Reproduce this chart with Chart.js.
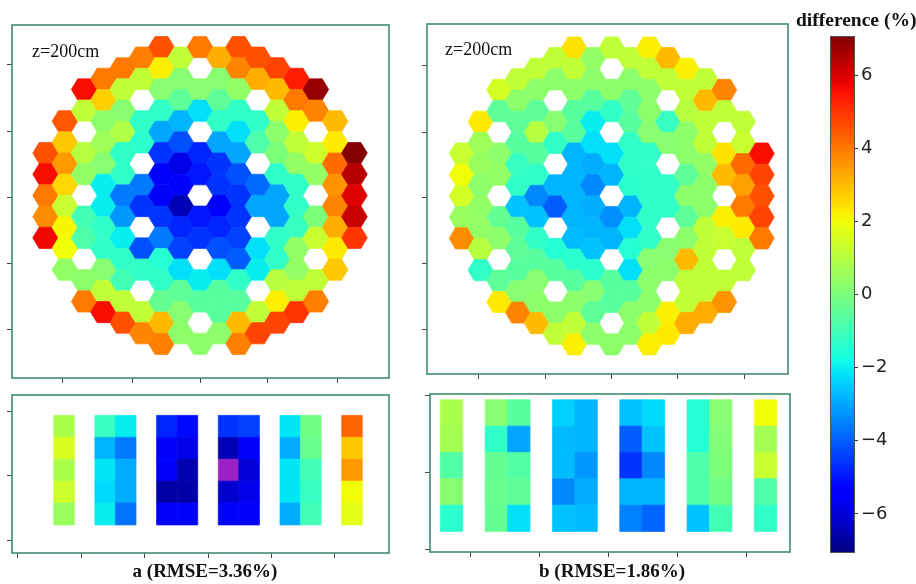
<!DOCTYPE html>
<html>
<head>
<meta charset="utf-8">
<script src="https://cdn.jsdelivr.net/npm/chart.js@4.4.1/dist/chart.umd.min.js"></script>
<style>
  html, body { margin: 0; padding: 0; background: #fff; }
  body { position: relative; width: 916px; height: 584px; overflow: hidden; }
  canvas { position: absolute; }
  .txt { position: absolute; white-space: nowrap; color: #111; line-height: 1; font-family: "Liberation Serif", "Times New Roman", serif; }
  .z { font-size: 18px; }
  .cap { font-size: 19px; font-weight: bold; width: 240px; text-align: center; }
  .ctitle { font-size: 19.5px; font-weight: bold; }
</style>
</head>
<body>
<canvas id="hexA" width="400" height="390" style="left:0;top:0"></canvas>
<canvas id="hexB" width="385" height="390" style="left:415px;top:0"></canvas>
<canvas id="stripA" width="400" height="199" style="left:0;top:385px"></canvas>
<canvas id="stripB" width="385" height="199" style="left:415px;top:385px"></canvas>
<canvas id="cbar" width="116" height="584" style="left:800px;top:0"></canvas>

<div class="txt z" style="left:32px;top:41.5px">z=200cm</div>
<div class="txt z" style="left:445px;top:40px">z=200cm</div>
<div class="txt cap" style="left:85px;top:561px">a (RMSE=3.36%)</div>
<div class="txt cap" style="left:492px;top:561px">b (RMSE=1.86%)</div>
<div class="txt ctitle" style="left:796px;top:9.7px">difference (%)</div>

<script>
// colour limits of the difference scale (%)
const V_MIN = -7.07;
const V_MAX = 7.07;
const CBAR_TICKS = [-6, -4, -2, 0, 2, 4, 6];

// hexagonal lattice columns, left to right
const HEX_COLS = [-8, -7, -6, -5, -4, -3, -2, -1, 0, 1, 2, 3, 4, 5, 6, 7, 8];

// radial difference map (a), one list per column, top to bottom; null = no assembly value
const mapA = [
  [4.6, 5.6, 4.0, 3.7, 5.7],
  [4.5, 2.8, 3.5, 2.6, 1.3, 2.1, 2.0, 0.4],
  [5.6, 1.2, null, 1.0, 0.4, null, -1.0, -0.8, null, 0.3, 4.0],
  [4.0, 2.7, 0.3, 0.6, 0.2, -2.0, -2.0, -1.3, -1.3, 0.2, 1.2, 5.6],
  [4.0, 1.2, 0.2, 0.9, -1.3, -1.3, -3.6, -3.2, -2.0, -1.3, -1.0, 1.2, 4.6],
  [3.9, 1.2, null, -1.3, -1.4, null, -3.6, -4.6, null, -4.2, -1.3, null, 1.2, 3.8],
  [4.6, 2.2, 0.2, -1.3, -3.0, -4.6, -5.4, -5.6, -4.6, -3.6, -1.5, -1.3, -0.4, 3.0, 3.9],
  [1.2, 0.2, -0.5, -2.8, -4.2, -5.8, -5.4, -6.4, -4.8, -4.4, -2.2, -0.5, 0.2, 0.3],
  [4.0, null, 0.2, -2.2, null, -4.8, -5.0, null, -5.0, -4.6, null, -2.0, -0.6, null, 0.3],
  [3.2, 0.2, -0.5, -1.3, -3.0, -4.6, -4.6, -5.4, -4.8, -4.2, -2.2, -0.6, -0.6, 0.3],
  [4.6, 3.8, 0.4, -1.3, -2.2, -3.0, -4.2, -4.6, -4.6, -4.4, -4.0, -1.3, -0.6, 3.0, 3.9],
  [4.6, 3.2, null, -1.3, -0.8, null, -3.8, -3.0, null, -2.2, -2.0, null, 1.2, 4.8],
  [4.8, 3.0, 1.2, 0.3, 0.0, -1.3, -3.0, -3.0, -1.3, -1.3, 1.0, 2.2, 4.8],
  [5.4, 4.0, 2.2, 1.2, 0.4, -1.3, -1.3, -1.2, 0.4, 0.4, 1.2, 5.0],
  [6.8, 3.8, null, 1.4, 0.4, null, 0.0, 1.3, null, 1.2, 3.9],
  [3.0, 2.3, 4.2, 3.6, 3.8, 3.2, 2.3, 2.8],
  [7.0, 6.4, 5.9, 6.2, 5.0]
];

// radial difference map (b)
const mapB = [
  [1.3, 2.0, 1.5, 0.5, 3.7],
  [2.3, 0.6, 0.5, 0.3, 0.4, 0.4, 1.0, -1.3],
  [1.5, -0.5, null, 0.3, 0.4, null, -0.4, 0.3, null, -0.5, 2.3],
  [1.2, 0.3, -0.5, -0.6, -1.2, -1.3, -2.6, -0.6, -0.5, -0.6, 0.2, 3.8],
  [1.2, 0.3, -0.5, 1.0, -0.6, -1.3, -3.4, -2.6, -1.3, -0.6, 0.2, 0.3, 3.0],
  [1.2, 0.3, null, 0.2, -1.3, null, -2.8, -4.0, null, -1.5, -0.6, null, 0.3, 1.2],
  [2.4, 1.2, 0.3, -0.6, -0.6, -2.8, -2.8, -2.8, -2.8, -2.7, -1.4, -0.6, 0.3, 1.2, 2.2],
  [0.4, 0.3, -0.6, -2.0, -2.2, -2.9, -3.4, -2.9, -2.8, -2.6, -1.4, 0.2, -0.5, 0.3],
  [1.2, null, 0.3, -1.3, null, -2.2, -2.8, null, -3.3, -2.8, null, -0.6, -0.6, null, 0.3],
  [1.2, 0.3, -0.5, -0.6, -1.3, -1.3, -1.4, -2.8, -2.2, -1.5, -2.2, -0.6, 0.3, 0.3],
  [2.2, 1.2, 0.3, 0.3, 0.2, -1.3, -1.3, -1.3, -1.3, -1.3, 0.2, 0.3, 0.3, 1.2, 2.2],
  [3.0, 1.2, null, -1.2, 0.2, null, -1.3, -1.3, null, 0.2, 0.3, null, 2.2, 2.3],
  [2.2, 1.2, 1.0, 0.3, 0.3, -0.5, 0.3, -0.5, 0.3, 3.0, 1.2, 1.2, 3.2],
  [1.2, 3.0, 1.2, 1.2, 0.4, 0.3, 0.3, 1.2, 1.2, 1.2, 1.2, 3.2],
  [3.8, 1.2, null, 2.4, 3.0, null, 2.2, 1.3, null, 1.2, 3.6],
  [1.2, 1.3, 4.2, 3.4, 4.0, 2.3, 1.2, 1.2],
  [5.6, 4.8, 4.6, 4.8, 4.0]
];

// axial profiles along the central row: lattice columns and five levels, top to bottom
const STRIP_COLS = [-7, -5, -4, -2, -1, 1, 2, 4, 5, 7];
const stripA = [
  [0.8, 1.6, 0.8, 1.4, 0.5],
  [-1.2, -2.8, -2.1, -2.3, -2.0],
  [-2.0, -3.6, -2.9, -2.9, -3.7],
  [-4.8, -5.3, -5.4, -6.6, -5.4],
  [-5.2, -5.8, -6.5, -6.6, -5.3],
  [-4.6, -6.4, -7.5, -6.1, -5.4],
  [-4.4, -5.3, -6.0, -5.8, -5.3],
  [-2.1, -2.9, -2.1, -2.1, -2.9],
  [-0.2, -0.3, -1.0, -1.2, -1.0],
  [4.3, 2.8, 3.5, 2.0, 1.8]
];
const stripB = [
  [0.8, 0.7, -0.7, 0.2, -1.4],
  [0.2, -1.3, -0.4, -0.3, -0.4],
  [-0.6, -3.0, -0.7, -0.5, -2.2],
  [-2.4, -2.7, -2.7, -3.4, -2.6],
  [-2.8, -2.8, -3.2, -2.9, -2.7],
  [-2.6, -4.0, -4.6, -2.8, -3.5],
  [-2.3, -2.6, -3.4, -2.8, -3.9],
  [-1.5, -1.5, -0.8, -0.8, -2.6],
  [0.2, 0.1, 0.0, -0.2, -1.0],
  [2.0, 0.7, 1.3, -0.8, -1.3]
];

// unlabelled tick positions on the panel frames
const HEX_X_TICKS = [-7.1, -3.52, 0, 3.52, 7.1];
const HEX_Y_TICKS = [-6.17, -3.01, 0.08, 3.2, 6.3];
const STRIP_X_TICKS = [-9.24, -6.16, -3.08, 0, 3.08, 6.16];
const STRIP_Y_TICKS = [-0.67, 2.26, 5.2];

const FRAME_COLOUR = '#3f8c70';
const TICK_COLOUR = '#444';
const UNDER_COLOUR = '#9b20c8';

// matplotlib "jet"
function jet(t) {
  t = Math.min(1, Math.max(0, t));
  const seg = pts => {
    for (let i = 1; i < pts.length; i++) {
      if (t <= pts[i][0]) {
        const [x0, y0] = pts[i - 1], [x1, y1] = pts[i];
        return y0 + (y1 - y0) * (t - x0) / (x1 - x0);
      }
    }
    return pts[pts.length - 1][1];
  };
  const r = seg([[0, 0], [0.35, 0], [0.66, 1], [0.89, 1], [1, 0.5]]);
  const g = seg([[0, 0], [0.125, 0], [0.375, 1], [0.64, 1], [0.91, 0], [1, 0]]);
  const b = seg([[0, 0.5], [0.11, 1], [0.34, 1], [0.65, 0], [1, 0]]);
  return `rgb(${Math.round(r * 255)},${Math.round(g * 255)},${Math.round(b * 255)})`;
}
function colourOf(v) {
  if (v < V_MIN) return UNDER_COLOUR;
  return jet((v - V_MIN) / (V_MAX - V_MIN));
}

// lattice points: column c, row offset centred on the core midline
function hexPoints(cols) {
  const pts = [];
  cols.forEach((col, i) => {
    const start = -(col.length - 1) / 2;
    col.forEach((v, j) => { if (v !== null) pts.push({ x: HEX_COLS[i], y: start + j, v }); });
  });
  return pts;
}
function stripPoints(cols) {
  const pts = [];
  cols.forEach((col, i) => col.forEach((v, j) => pts.push({ x: STRIP_COLS[i], y: j, v })));
  return pts;
}

// fills each data point as a flat-topped hexagon or a rectangle sized from the scales
const cellPlugin = {
  id: 'cells',
  beforeDatasetsDraw(chart, args, opts) {
    const { ctx, chartArea: a, scales: { x, y } } = chart;
    const dx = Math.abs(x.getPixelForValue(1) - x.getPixelForValue(0));
    const dy = Math.abs(y.getPixelForValue(1) - y.getPixelForValue(0));
    const data = chart.data.datasets[0].data;
    const meta = chart.getDatasetMeta(0);
    ctx.save();
    ctx.beginPath();
    ctx.rect(a.left, a.top, a.right - a.left, a.bottom - a.top);
    ctx.clip();
    meta.data.forEach((el, i) => {
      const c = colourOf(data[i].v);
      ctx.fillStyle = c;
      ctx.strokeStyle = c;
      ctx.lineWidth = 0.7;
      ctx.beginPath();
      if (opts.shape === 'hex') {
        const R = dx * 2 / 3, h = dy / 2;
        ctx.moveTo(el.x - R, el.y);
        ctx.lineTo(el.x - R / 2, el.y - h);
        ctx.lineTo(el.x + R / 2, el.y - h);
        ctx.lineTo(el.x + R, el.y);
        ctx.lineTo(el.x + R / 2, el.y + h);
        ctx.lineTo(el.x - R / 2, el.y + h);
        ctx.closePath();
      } else {
        ctx.rect(el.x - dx / 2, el.y - dy / 2, dx, dy);
      }
      ctx.fill();
      ctx.stroke();
    });
    ctx.restore();
  }
};

const framePlugin = {
  id: 'panelFrame',
  afterDraw(chart) {
    const { ctx, chartArea: a } = chart;
    ctx.save();
    ctx.strokeStyle = FRAME_COLOUR;
    ctx.lineWidth = 1.6;
    ctx.strokeRect(a.left, a.top, a.right - a.left, a.bottom - a.top);
    ctx.restore();
  }
};

function frameScales(xr, xTicks, yr, yTicks) {
  const grid = { display: true, drawOnChartArea: false, drawTicks: true, tickLength: 5, tickColor: TICK_COLOUR, lineWidth: 1 };
  const pick = (vals, lo, hi) => vals.filter(v => v >= lo && v <= hi).map(v => ({ value: v }));
  return {
    x: {
      type: 'linear', position: 'bottom', min: xr[0], max: xr[1],
      grid, border: { display: false }, ticks: { display: false },
      afterBuildTicks: s => { s.ticks = pick(xTicks, xr[0], xr[1]); },
      afterFit: s => { s.height = 12; }
    },
    y: {
      type: 'linear', position: 'left', reverse: true, min: yr[0], max: yr[1],
      grid, border: { display: false }, ticks: { display: false },
      afterBuildTicks: s => { s.ticks = pick(yTicks, yr[0], yr[1]); },
      afterFit: s => { s.width = 12; }
    }
  };
}

function panel(id, points, shape, padding, scales) {
  return new Chart(document.getElementById(id), {
    type: 'scatter',
    data: { datasets: [{ data: points, pointRadius: 0, pointHoverRadius: 0 }] },
    options: {
      responsive: false, animation: false, events: [],
      layout: { padding },
      plugins: { legend: { display: false }, tooltip: { enabled: false }, cells: { shape } },
      scales
    },
    plugins: [cellPlugin, framePlugin]
  });
}

panel('hexA', hexPoints(mapA), 'hex', { left: 0, top: 25, right: 11, bottom: 0 },
  frameScales([-9.74, 9.79], HEX_X_TICKS, [-8.04, 8.61], HEX_Y_TICKS));
panel('hexB', hexPoints(mapB), 'hex', { left: 0, top: 24, right: 12, bottom: 4 },
  frameScales([-9.85, 9.4], HEX_X_TICKS, [-8.11, 8.4], HEX_Y_TICKS));
panel('stripA', stripPoints(stripA), 'rect', { left: 0, top: 10, right: 11, bottom: 19 },
  frameScales([-9.53, 8.8], STRIP_X_TICKS, [-1.43, 5.78], STRIP_Y_TICKS));
panel('stripB', stripPoints(stripB), 'rect', { left: 3, top: 9, right: 10, bottom: 20 },
  frameScales([-7.96, 8.09], STRIP_X_TICKS, [-0.72, 5.28], STRIP_Y_TICKS));

// colour bar
const cbarPlugin = {
  id: 'cbarFill',
  beforeDatasetsDraw(chart) {
    const { ctx, chartArea: a, scales: { y } } = chart;
    const y0 = y.getPixelForValue(V_MIN), y1 = y.getPixelForValue(V_MAX);
    const grad = ctx.createLinearGradient(0, y0, 0, y1);
    const n = 64;
    for (let i = 0; i <= n; i++) grad.addColorStop(i / n, jet(i / n));
    ctx.save();
    ctx.fillStyle = grad;
    ctx.fillRect(a.left, a.top, a.right - a.left, a.bottom - a.top);
    ctx.strokeStyle = '#555';
    ctx.lineWidth = 1;
    ctx.strokeRect(a.left + 0.5, a.top + 0.5, a.right - a.left - 1, a.bottom - a.top - 1);
    ctx.restore();
  }
};
new Chart(document.getElementById('cbar'), {
  type: 'scatter',
  data: { datasets: [{ data: [], pointRadius: 0 }] },
  options: {
    responsive: false, animation: false, events: [],
    layout: { padding: { left: 30, top: 36, right: 0, bottom: 31 } },
    plugins: { legend: { display: false }, tooltip: { enabled: false } },
    scales: {
      x: { display: false, min: 0, max: 1 },
      y: {
        position: 'right', min: V_MIN, max: V_MAX,
        grid: { drawOnChartArea: false, drawTicks: true, tickLength: 3, tickColor: '#333' },
        border: { display: false },
        ticks: {
          color: '#222', padding: 3,
          font: { family: 'DejaVu Sans', size: 18 },
          callback: v => (v < 0 ? '\u2212' + Math.abs(v) : String(v))
        },
        afterBuildTicks: s => { s.ticks = CBAR_TICKS.map(v => ({ value: v })); },
        afterFit: s => { s.width = 61; }
      }
    }
  },
  plugins: [cbarPlugin]
});
</script>
</body>
</html>
